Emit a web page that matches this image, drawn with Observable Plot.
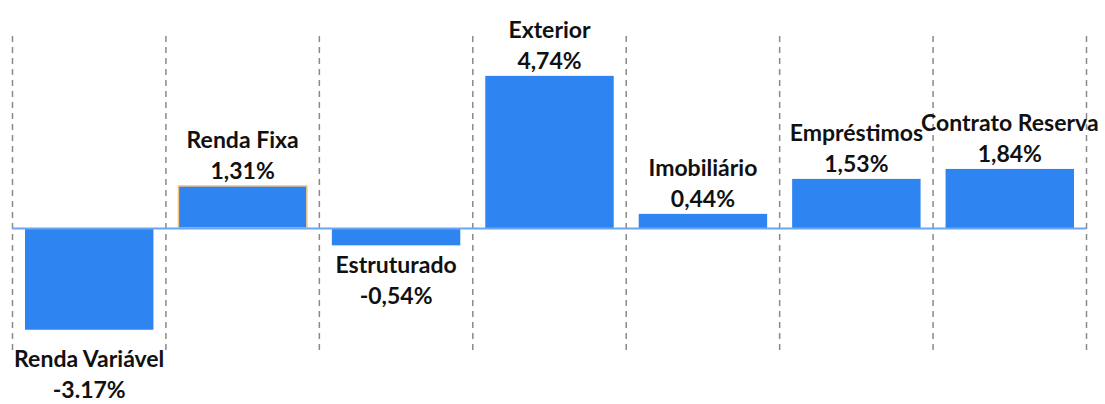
<!DOCTYPE html>
<html><head><meta charset="utf-8">
<script src="https://cdn.jsdelivr.net/npm/d3@7"></script>
<script src="https://cdn.jsdelivr.net/npm/@observablehq/plot@0.6"></script>
<style>body{margin:0;background:#fff;}</style>
</head><body><div id="chart"></div>
<script>
const categories = ["Renda Variável","Renda Fixa","Estruturado","Exterior","Imobiliário","Empréstimos","Contrato Reserva"];
const values = [-3.17, 1.31, -0.54, 4.74, 0.44, 1.53, 1.84];
const valueLabels = ["-3.17%","1,31%","-0,54%","4,74%","0,44%","1,53%","1,84%"];

const data = categories.map((c, i) => ({i, name: c, value: values[i], label: valueLabels[i]}));
const edges = d3.range(categories.length + 1);
const textStyle = {fontSize: 23, fontWeight: "bold", lineHeight: 1.35, fill: "#111", text: d => `${d.name}\n${d.label}`, x: d => d.i + 0.5, y: "value"};

const chart = Plot.plot({
  width: 1105, height: 404,
  marginLeft: 12, marginRight: 19, marginTop: 0, marginBottom: 0,
  x: {type: "linear", domain: [0, categories.length], axis: null},
  y: {domain: [-5.483, 7.103], axis: null},
  style: {fontFamily: "Lato, 'Open Sans', sans-serif", background: "#fff"},
  marks: [
    Plot.ruleX(edges, {x: d => d, y1: 5.98, y2: -3.96, stroke: "#8a8a8a", strokeWidth: 1.5, strokeDasharray: "6,5"}),
    Plot.rectY(data, {x1: "i", x2: d => d.i + 1, y: "value", insetLeft: 13, insetRight: 12, fill: "#2e84f0"}),
    Plot.rectY(data.filter(d => d.name === "Renda Fixa"), {x1: "i", x2: d => d.i + 1, y: "value", insetLeft: 13, insetRight: 12, fill: "none", stroke: "#f5c77e", strokeWidth: 1.5}),
    Plot.ruleY([0], {stroke: "#6aa6f2", strokeWidth: 2}),
    Plot.text(data.filter(d => d.value >= 0), {...textStyle, lineAnchor: "bottom", dy: -7}),
    Plot.text(data.filter(d => d.value < 0 && d.value > -2), {...textStyle, lineAnchor: "top", dy: 5}),
    Plot.text(data.filter(d => d.value <= -2), {...textStyle, lineAnchor: "top", dy: 15})
  ]
});
document.getElementById("chart").appendChild(chart);
</script>
</body></html>
